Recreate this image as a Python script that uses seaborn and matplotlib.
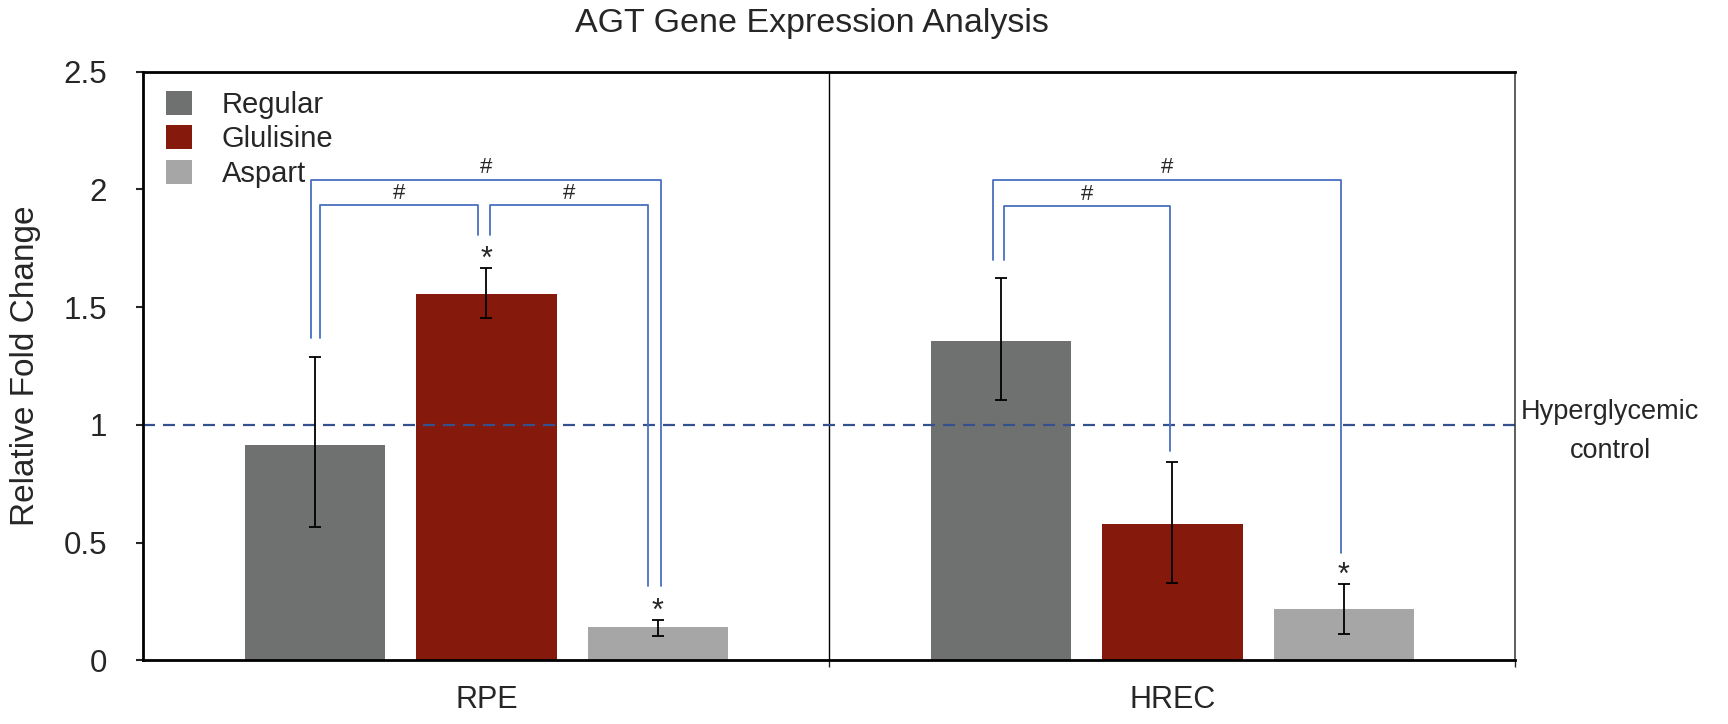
import numpy as np
import pandas as pd
import matplotlib
matplotlib.use("Agg")
import matplotlib.pyplot as plt
import seaborn as sns

# values
cells = ['RPE', 'HREC']
treatments = ['Regular', 'Glulisine', 'Aspart']
fold_rpe = [0.916, 1.556, 0.142]
fold_hrec = [1.358, 0.577, 0.217]
low_rpe = [0.564, 1.455, 0.105]
high_rpe = [1.288, 1.665, 0.172]
low_hrec = [1.107, 0.330, 0.112]
high_hrec = [1.622, 0.844, 0.325]
colors = ['#6e716f', '#84190c', '#a6a6a6']
ytick_labels = ['0', '0.5', '1', '1.5', '2', '2.5']

# significance: (cell, treatment) marked with *
stars = [('RPE', 'Glulisine'), ('RPE', 'Aspart'), ('HREC', 'Aspart')]
# brackets: cell, left treatment, right treatment, top, left end, right end, left shift, right shift
brackets = [
    ('RPE', 'Regular', 'Aspart', 2.042, 1.37, 0.315, -0.006, 0.004),
    ('RPE', 'Regular', 'Glulisine', 1.934, 1.37, 1.806, 0.007, -0.013),
    ('RPE', 'Glulisine', 'Aspart', 1.934, 1.806, 0.315, 0.005, -0.014),
    ('HREC', 'Regular', 'Aspart', 2.042, 1.70, 0.457, -0.011, -0.004),
    ('HREC', 'Regular', 'Glulisine', 1.93, 1.70, 0.889, 0.004, -0.004),
]

df = pd.DataFrame({
    'Cell': np.repeat(cells, len(treatments)),
    'Treatment': treatments * len(cells),
    'Fold': fold_rpe + fold_hrec,
    'Low': low_rpe + low_hrec,
    'High': high_rpe + high_hrec,
})

sns.set_style("white")
plt.rcParams['font.family'] = ['Liberation Sans', 'DejaVu Sans']

fig, ax = plt.subplots(figsize=(17.28, 7.24), dpi=100)
fig.subplots_adjust(left=0.083, right=0.877, top=0.901, bottom=0.088)

sns.barplot(data=df, x='Cell', y='Fold', hue='Treatment', order=cells,
            hue_order=treatments, palette=colors, width=0.75, gap=0.18,
            errorbar=None, saturation=1, linewidth=0, ax=ax)

# bar centres from seaborn's containers
centers = {}
for i, t in enumerate(treatments):
    for j, c in enumerate(cells):
        bar = ax.containers[i][j]
        centers[(c, t)] = bar.get_x() + bar.get_width() / 2

for _, row in df.iterrows():
    x = centers[(row.Cell, row.Treatment)]
    ax.errorbar(x, row.Fold, yerr=[[row.Fold - row.Low], [row.High - row.Fold]],
                fmt='none', ecolor='black', elinewidth=1.3, capsize=4, capthick=1.3, zorder=4)

for c, t in stars:
    hi = df[(df.Cell == c) & (df.Treatment == t)].High.iloc[0]
    ax.text(centers[(c, t)], hi, '*', ha='center', va='baseline', fontsize=22)

blue = '#4a70c0'
for c, t1, t2, top, e1, e2, s1, s2 in brackets:
    x1 = centers[(c, t1)] + s1
    x2 = centers[(c, t2)] + s2
    ax.plot([x1, x1, x2, x2], [e1, top, top, e2], color=blue, lw=1.3, zorder=3)
    ax.text((x1 + x2) / 2, top + 0.05, '#', ha='center', va='center', fontsize=16)

ax.axhline(1, color='#34508f', lw=1.6, dashes=(5.4, 3.6), zorder=2)
ax.axvline(0.5, color='black', lw=1.0, zorder=1)

ax.set_xlim(-0.5, 1.5)
ax.set_ylim(0, 2.5)
ax.set_yticks(np.arange(0, 2.51, 0.5))
ax.set_yticklabels(ytick_labels)
ax.set_xticks([0.5, 1.5], minor=True)
ax.tick_params(axis='x', which='major', length=0, pad=18, labelsize=22)
ax.tick_params(axis='x', which='minor', direction='out', length=5, width=1.0, bottom=True)
ax.tick_params(axis='y', direction='out', length=5, width=1.5, pad=21, labelsize=22.5, left=True)
ax.set_xlabel('')
ax.set_ylabel('Relative Fold Change', fontsize=24)
ax.yaxis.set_label_coords(-0.075, 0.5)

for s in ['left', 'bottom', 'top']:
    ax.spines[s].set_linewidth(2.0)
    ax.spines[s].set_color('black')
ax.spines['right'].set_linewidth(1.1)
ax.spines['right'].set_color('#333333')

handles, labels = ax.get_legend_handles_labels()
ax.legend(handles, labels, loc='upper left', bbox_to_anchor=(0.0164, 0.968), frameon=False,
          fontsize=21, handlelength=0.91, handleheight=0.89, handletextpad=1.0,
          labelspacing=0.22, borderaxespad=0, borderpad=0)

ax.text(1.069, 0.97, 'Hyperglycemic\ncontrol', transform=ax.get_yaxis_transform(),
        ha='center', va='center', fontsize=19.5, multialignment='center', linespacing=1.65)
fig.text(0.4696, 0.967, 'AGT Gene Expression Analysis', ha='center', va='center', fontsize=24.5)

fig.savefig('out.png', dpi=100)
